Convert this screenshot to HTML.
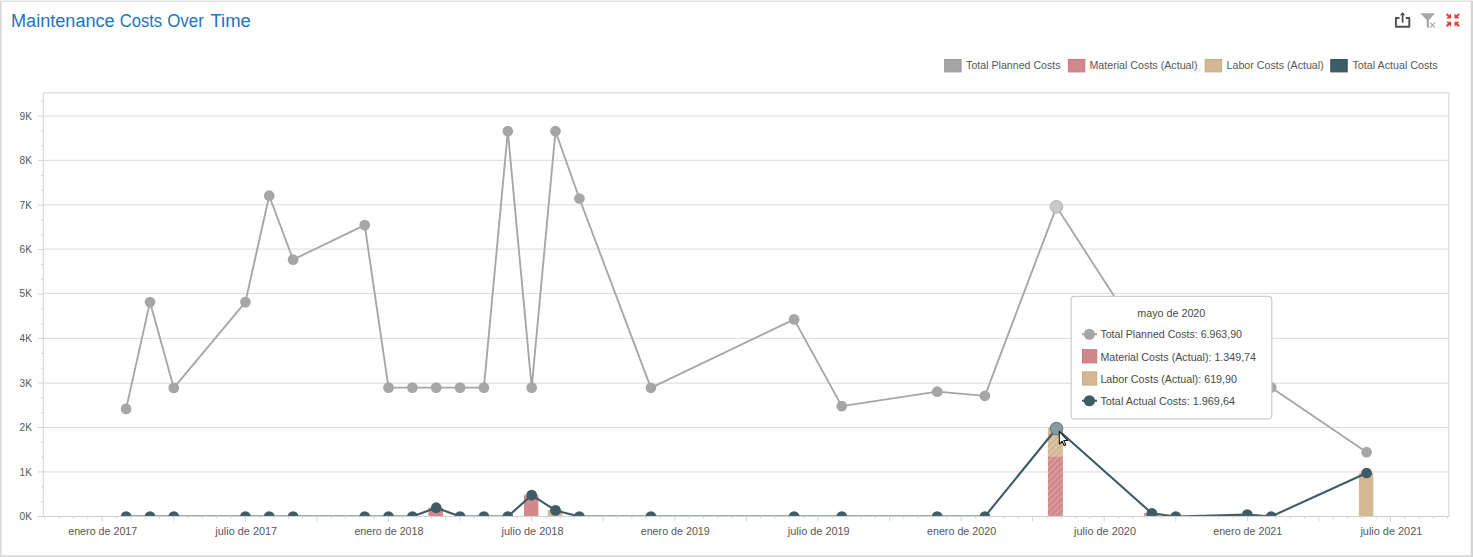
<!DOCTYPE html>
<html><head><meta charset="utf-8"><title>Maintenance Costs Over Time</title>
<style>
html,body{margin:0;padding:0;background:#fff;}
body{width:1473px;height:557px;overflow:hidden;font-family:"Liberation Sans",sans-serif;}
svg{display:block;position:absolute;left:0;top:0;}
text{font-family:"Liberation Sans",sans-serif;}
.ax{font-size:11px;fill:#585858;}
.lg{font-size:11px;fill:#585858;}
.tt{font-size:11px;fill:#4a4a4a;}
</style></head><body>
<svg width="1473" height="557" viewBox="0 0 1473 557">
<defs>
<clipPath id="plot"><rect x="43" y="92" width="1407" height="424"/></clipPath>
<pattern id="hr" width="4.25" height="4.25" patternUnits="userSpaceOnUse" patternTransform="rotate(-45)"><rect width="4.25" height="4.25" fill="#d2878b"/><rect width="4.25" height="1.2" fill="#dfa5a8"/></pattern>
<pattern id="ht" width="4.25" height="4.25" patternUnits="userSpaceOnUse" patternTransform="rotate(-45)"><rect width="4.25" height="4.25" fill="#d3b893"/><rect width="4.25" height="1.2" fill="#e0ccb0"/></pattern>
</defs>

<rect x="0" y="0" width="1473" height="557" fill="#ffffff"/>
<rect x="0" y="0" width="1473" height="1" fill="#f0f0f0"/>
<rect x="0" y="1" width="1473" height="1" fill="#e0e0e0"/>
<rect x="0" y="1" width="1" height="556" fill="#d4d4d4"/>
<rect x="1" y="2" width="1" height="553" fill="#ececec"/>
<rect x="1471" y="1" width="2" height="556" fill="#d4d4d4"/>
<rect x="1470" y="2" width="1" height="553" fill="#f4f4f4"/>
<rect x="1" y="555" width="1470" height="1" fill="#e4e4e4"/>
<rect x="0" y="556" width="1473" height="1" fill="#d3d3d3"/>
<text x="11.0" y="26.9" font-size="18" fill="#1f74c0" textLength="103.7" lengthAdjust="spacingAndGlyphs">Maintenance</text>
<text x="119.7" y="26.9" font-size="18" fill="#1f74c0" textLength="42.5" lengthAdjust="spacingAndGlyphs">Costs</text>
<text x="167.2" y="26.9" font-size="18" fill="#1f74c0" textLength="36.6" lengthAdjust="spacingAndGlyphs">Over</text>
<text x="210.5" y="26.9" font-size="18" fill="#1f74c0" textLength="40.4" lengthAdjust="spacingAndGlyphs">Time</text>
<g id="ico-export" fill="none" stroke="#4f4f4f" stroke-linejoin="round" stroke-linecap="butt">
<path d="M1399.4 18.0H1395.9V26.8H1409.3V18.0H1405.8" stroke-width="1.9"/>
<path d="M1402.6 22.7V13.8" stroke-width="1.7"/>
</g>
<path d="M1402.6 12.0l2.6 3.3h-5.2z" fill="#4f4f4f"/>
<g id="ico-filter">
<path d="M1420.2 13.3h14.8l-6.1 6.6v7.9h-2.1v-7.9z" fill="#a8a8a8"/>
<path d="M1430.2 22.6l4.7 5M1434.9 22.6l-4.7 5" stroke="#adadad" stroke-width="1.25" fill="none"/>
</g>
<g id="ico-collapse" fill="#ea3c3c" stroke="#ea3c3c">
<path d="M1451.10 13.40V18.40H1446.10z" stroke="none"/><path d="M1446.60 13.90L1449.70 17.00" stroke-width="2.1" fill="none"/>
<path d="M1451.10 26.80V21.80H1446.10z" stroke="none"/><path d="M1446.60 26.30L1449.70 23.20" stroke-width="2.1" fill="none"/>
<path d="M1454.50 13.40V18.40H1459.50z" stroke="none"/><path d="M1459.00 13.90L1455.90 17.00" stroke-width="2.1" fill="none"/>
<path d="M1454.50 26.80V21.80H1459.50z" stroke="none"/><path d="M1459.00 26.30L1455.90 23.20" stroke-width="2.1" fill="none"/>
</g>

<rect x="944.7" y="59.5" width="16.4" height="12.4" fill="#a6a6a6" stroke="#9a9a9a" stroke-width="1"/>
<text class="lg" x="966.1" y="69.1" textLength="94.5" lengthAdjust="spacingAndGlyphs">Total Planned Costs</text>
<rect x="1068.4" y="59.5" width="16.4" height="12.4" fill="#d2878b" stroke="#c9797d" stroke-width="1"/>
<text class="lg" x="1089.4" y="69.1" textLength="108.1" lengthAdjust="spacingAndGlyphs">Material Costs (Actual)</text>
<rect x="1205.2" y="59.5" width="16.4" height="12.4" fill="#d3b893" stroke="#c8ab84" stroke-width="1"/>
<text class="lg" x="1226.6" y="69.1" textLength="97.1" lengthAdjust="spacingAndGlyphs">Labor Costs (Actual)</text>
<rect x="1330.8" y="59.5" width="16.4" height="12.4" fill="#3e5c66" stroke="#36525b" stroke-width="1"/>
<text class="lg" x="1352.5" y="69.1" textLength="85.2" lengthAdjust="spacingAndGlyphs">Total Actual Costs</text>
<g id="grid" stroke="#dcdcdc" stroke-width="1" fill="none">
<path d="M43.8 471.95H1448.4"/>
<path d="M43.8 427.50H1448.4"/>
<path d="M43.8 383.20H1448.4"/>
<path d="M43.8 338.35H1448.4"/>
<path d="M43.8 293.45H1448.4"/>
<path d="M43.8 249.05H1448.4"/>
<path d="M43.8 204.75H1448.4"/>
<path d="M43.8 160.35H1448.4"/>
<path d="M43.8 116.10H1448.4"/>
</g>
<g id="frame" stroke="#d3d3d3" stroke-width="1" fill="none">
<path d="M43.3 516.4V92.9H1448.9V516.4"/>
</g>
<g id="yticks" stroke="#d4d4d4" stroke-width="1" fill="none">
<path d="M38 516.45H43.3"/>
<path d="M41 501.62H43.3"/>
<path d="M41 486.80H43.3"/>
<path d="M38 471.97H43.3"/>
<path d="M41 457.14H43.3"/>
<path d="M41 442.32H43.3"/>
<path d="M38 427.49H43.3"/>
<path d="M41 412.66H43.3"/>
<path d="M41 397.84H43.3"/>
<path d="M38 383.01H43.3"/>
<path d="M41 368.18H43.3"/>
<path d="M41 353.36H43.3"/>
<path d="M38 338.53H43.3"/>
<path d="M41 323.70H43.3"/>
<path d="M41 308.88H43.3"/>
<path d="M38 294.05H43.3"/>
<path d="M41 279.22H43.3"/>
<path d="M41 264.40H43.3"/>
<path d="M38 249.57H43.3"/>
<path d="M41 234.74H43.3"/>
<path d="M41 219.92H43.3"/>
<path d="M38 205.09H43.3"/>
<path d="M41 190.26H43.3"/>
<path d="M41 175.44H43.3"/>
<path d="M38 160.61H43.3"/>
<path d="M41 145.78H43.3"/>
<path d="M41 130.96H43.3"/>
<path d="M38 116.13H43.3"/>
<path d="M41 101.30H43.3"/>
</g>
<g id="xticks" stroke="#d4d4d4" stroke-width="1" fill="none">
<path d="M45.0 516.4V518.7"/>
<path d="M59.3 516.4V518.7"/>
<path d="M73.6 516.4V518.7"/>
<path d="M87.9 516.4V518.7"/>
<path d="M102.2 516.4V521.4"/>
<path d="M116.6 516.4V518.7"/>
<path d="M130.9 516.4V518.7"/>
<path d="M145.2 516.4V518.7"/>
<path d="M159.5 516.4V518.7"/>
<path d="M173.8 516.4V521.4"/>
<path d="M188.1 516.4V518.7"/>
<path d="M202.4 516.4V518.7"/>
<path d="M216.8 516.4V518.7"/>
<path d="M231.1 516.4V518.7"/>
<path d="M245.4 516.4V521.4"/>
<path d="M259.7 516.4V518.7"/>
<path d="M274.0 516.4V518.7"/>
<path d="M288.3 516.4V518.7"/>
<path d="M302.6 516.4V518.7"/>
<path d="M317.0 516.4V521.4"/>
<path d="M331.3 516.4V518.7"/>
<path d="M345.6 516.4V518.7"/>
<path d="M359.9 516.4V518.7"/>
<path d="M374.2 516.4V518.7"/>
<path d="M388.5 516.4V521.4"/>
<path d="M402.8 516.4V518.7"/>
<path d="M417.1 516.4V518.7"/>
<path d="M431.5 516.4V518.7"/>
<path d="M445.8 516.4V518.7"/>
<path d="M460.1 516.4V521.4"/>
<path d="M474.4 516.4V518.7"/>
<path d="M488.7 516.4V518.7"/>
<path d="M503.0 516.4V518.7"/>
<path d="M517.3 516.4V518.7"/>
<path d="M531.7 516.4V521.4"/>
<path d="M546.0 516.4V518.7"/>
<path d="M560.3 516.4V518.7"/>
<path d="M574.6 516.4V518.7"/>
<path d="M588.9 516.4V518.7"/>
<path d="M603.2 516.4V521.4"/>
<path d="M617.5 516.4V518.7"/>
<path d="M631.9 516.4V518.7"/>
<path d="M646.2 516.4V518.7"/>
<path d="M660.5 516.4V518.7"/>
<path d="M674.8 516.4V521.4"/>
<path d="M689.1 516.4V518.7"/>
<path d="M703.4 516.4V518.7"/>
<path d="M717.7 516.4V518.7"/>
<path d="M732.0 516.4V518.7"/>
<path d="M746.4 516.4V521.4"/>
<path d="M760.7 516.4V518.7"/>
<path d="M775.0 516.4V518.7"/>
<path d="M789.3 516.4V518.7"/>
<path d="M803.6 516.4V518.7"/>
<path d="M817.9 516.4V521.4"/>
<path d="M832.2 516.4V518.7"/>
<path d="M846.6 516.4V518.7"/>
<path d="M860.9 516.4V518.7"/>
<path d="M875.2 516.4V518.7"/>
<path d="M889.5 516.4V521.4"/>
<path d="M903.8 516.4V518.7"/>
<path d="M918.1 516.4V518.7"/>
<path d="M932.4 516.4V518.7"/>
<path d="M946.8 516.4V518.7"/>
<path d="M961.1 516.4V521.4"/>
<path d="M975.4 516.4V518.7"/>
<path d="M989.7 516.4V518.7"/>
<path d="M1004.0 516.4V518.7"/>
<path d="M1018.3 516.4V518.7"/>
<path d="M1032.6 516.4V521.4"/>
<path d="M1046.9 516.4V518.7"/>
<path d="M1061.3 516.4V518.7"/>
<path d="M1075.6 516.4V518.7"/>
<path d="M1089.9 516.4V518.7"/>
<path d="M1104.2 516.4V521.4"/>
<path d="M1118.5 516.4V518.7"/>
<path d="M1132.8 516.4V518.7"/>
<path d="M1147.1 516.4V518.7"/>
<path d="M1161.5 516.4V518.7"/>
<path d="M1175.8 516.4V521.4"/>
<path d="M1190.1 516.4V518.7"/>
<path d="M1204.4 516.4V518.7"/>
<path d="M1218.7 516.4V518.7"/>
<path d="M1233.0 516.4V518.7"/>
<path d="M1247.3 516.4V521.4"/>
<path d="M1261.7 516.4V518.7"/>
<path d="M1276.0 516.4V518.7"/>
<path d="M1290.3 516.4V518.7"/>
<path d="M1304.6 516.4V518.7"/>
<path d="M1318.9 516.4V521.4"/>
<path d="M1333.2 516.4V518.7"/>
<path d="M1347.5 516.4V518.7"/>
<path d="M1361.8 516.4V518.7"/>
<path d="M1376.2 516.4V518.7"/>
<path d="M1390.5 516.4V521.4"/>
<path d="M1404.8 516.4V518.7"/>
<path d="M1419.1 516.4V518.7"/>
<path d="M1433.4 516.4V518.7"/>
<path d="M1447.7 516.4V518.7"/>
</g>
<text class="ax" x="31.9" y="520.2" text-anchor="end" textLength="12.4" lengthAdjust="spacingAndGlyphs">0K</text>
<text class="ax" x="31.9" y="475.8" text-anchor="end" textLength="12.4" lengthAdjust="spacingAndGlyphs">1K</text>
<text class="ax" x="31.9" y="431.3" text-anchor="end" textLength="12.4" lengthAdjust="spacingAndGlyphs">2K</text>
<text class="ax" x="31.9" y="387.0" text-anchor="end" textLength="12.4" lengthAdjust="spacingAndGlyphs">3K</text>
<text class="ax" x="31.9" y="342.2" text-anchor="end" textLength="12.4" lengthAdjust="spacingAndGlyphs">4K</text>
<text class="ax" x="31.9" y="297.2" text-anchor="end" textLength="12.4" lengthAdjust="spacingAndGlyphs">5K</text>
<text class="ax" x="31.9" y="252.9" text-anchor="end" textLength="12.4" lengthAdjust="spacingAndGlyphs">6K</text>
<text class="ax" x="31.9" y="208.6" text-anchor="end" textLength="12.4" lengthAdjust="spacingAndGlyphs">7K</text>
<text class="ax" x="31.9" y="164.2" text-anchor="end" textLength="12.4" lengthAdjust="spacingAndGlyphs">8K</text>
<text class="ax" x="31.9" y="119.9" text-anchor="end" textLength="12.4" lengthAdjust="spacingAndGlyphs">9K</text>
<text class="ax" x="68.2" y="534.9" textLength="69.1" lengthAdjust="spacingAndGlyphs">enero de 2017</text>
<text class="ax" x="215.3" y="534.9" textLength="61.9" lengthAdjust="spacingAndGlyphs">julio de 2017</text>
<text class="ax" x="354.4" y="534.9" textLength="69.1" lengthAdjust="spacingAndGlyphs">enero de 2018</text>
<text class="ax" x="501.6" y="534.9" textLength="61.9" lengthAdjust="spacingAndGlyphs">julio de 2018</text>
<text class="ax" x="640.7" y="534.9" textLength="69.1" lengthAdjust="spacingAndGlyphs">enero de 2019</text>
<text class="ax" x="787.8" y="534.9" textLength="61.9" lengthAdjust="spacingAndGlyphs">julio de 2019</text>
<text class="ax" x="927.0" y="534.9" textLength="69.1" lengthAdjust="spacingAndGlyphs">enero de 2020</text>
<text class="ax" x="1074.1" y="534.9" textLength="61.9" lengthAdjust="spacingAndGlyphs">julio de 2020</text>
<text class="ax" x="1213.2" y="534.9" textLength="69.1" lengthAdjust="spacingAndGlyphs">enero de 2021</text>
<text class="ax" x="1360.4" y="534.9" textLength="61.9" lengthAdjust="spacingAndGlyphs">julio de 2021</text>
<g clip-path="url(#plot)">
<rect x="428.5" y="507.7" width="14.4" height="8.8" fill="#d2878b"/>
<rect x="524.0" y="495.2" width="14.4" height="21.3" fill="#d2878b"/>
<rect x="524.0" y="494.5" width="14.4" height="0.7" fill="#d3b893"/>
<rect x="547.8" y="510.1" width="14.4" height="6.4" fill="#d3b893"/>
<rect x="1047.9" y="456.2" width="15" height="60.3" fill="url(#hr)"/>
<rect x="1047.9" y="427.9" width="15" height="28.3" fill="url(#ht)"/>
<rect x="1144.2" y="513.0" width="14.4" height="3.5" fill="#d2878b"/>
<rect x="1358.9" y="473.0" width="14.4" height="43.5" fill="#d3b893"/>
<polyline points="126.1,408.9 150.0,302.1 173.8,387.9 245.4,302.1 269.2,195.7 293.1,259.6 364.7,225.1 388.5,387.6 412.4,387.6 436.2,387.6 460.1,387.6 483.9,387.6 507.8,131.2 531.7,387.6 555.5,131.2 579.4,198.5 650.9,387.8 794.1,319.4 841.8,406.1 937.2,391.7 984.9,395.8 1056.5,206.8 1151.9,354.7 1175.8,388.0 1247.3,388.0 1271.2,387.4 1366.6,452.2" fill="none" stroke="#a6a6a6" stroke-width="1.85" stroke-linejoin="round"/>
<circle cx="126.1" cy="408.9" r="5.35" fill="#a6a6a6"/>
<circle cx="150.0" cy="302.1" r="5.35" fill="#a6a6a6"/>
<circle cx="173.8" cy="387.9" r="5.35" fill="#a6a6a6"/>
<circle cx="245.4" cy="302.1" r="5.35" fill="#a6a6a6"/>
<circle cx="269.2" cy="195.7" r="5.35" fill="#a6a6a6"/>
<circle cx="293.1" cy="259.6" r="5.35" fill="#a6a6a6"/>
<circle cx="364.7" cy="225.1" r="5.35" fill="#a6a6a6"/>
<circle cx="388.5" cy="387.6" r="5.35" fill="#a6a6a6"/>
<circle cx="412.4" cy="387.6" r="5.35" fill="#a6a6a6"/>
<circle cx="436.2" cy="387.6" r="5.35" fill="#a6a6a6"/>
<circle cx="460.1" cy="387.6" r="5.35" fill="#a6a6a6"/>
<circle cx="483.9" cy="387.6" r="5.35" fill="#a6a6a6"/>
<circle cx="507.8" cy="131.2" r="5.35" fill="#a6a6a6"/>
<circle cx="531.7" cy="387.6" r="5.35" fill="#a6a6a6"/>
<circle cx="555.5" cy="131.2" r="5.35" fill="#a6a6a6"/>
<circle cx="579.4" cy="198.5" r="5.35" fill="#a6a6a6"/>
<circle cx="650.9" cy="387.8" r="5.35" fill="#a6a6a6"/>
<circle cx="794.1" cy="319.4" r="5.35" fill="#a6a6a6"/>
<circle cx="841.8" cy="406.1" r="5.35" fill="#a6a6a6"/>
<circle cx="937.2" cy="391.7" r="5.35" fill="#a6a6a6"/>
<circle cx="984.9" cy="395.8" r="5.35" fill="#a6a6a6"/>
<circle cx="1151.9" cy="354.7" r="5.35" fill="#a6a6a6"/>
<circle cx="1175.8" cy="388.0" r="5.35" fill="#a6a6a6"/>
<circle cx="1247.3" cy="388.0" r="5.35" fill="#a6a6a6"/>
<circle cx="1271.2" cy="387.4" r="5.35" fill="#a6a6a6"/>
<circle cx="1366.6" cy="452.2" r="5.35" fill="#a6a6a6"/>
<polyline points="126.1,516.5 150.0,516.5 173.8,516.5 245.4,516.5 269.2,516.5 293.1,516.5 364.7,516.5 388.5,516.5 412.4,516.5 436.2,507.7 460.1,516.5 483.9,516.5 507.8,516.5 531.7,495.1 555.5,510.4 579.4,516.5 650.9,516.5 794.1,516.5 841.8,516.5 937.2,516.5 984.9,516.5 1056.5,428.5 1151.9,513.4 1175.8,516.5 1247.3,514.6 1271.2,516.5 1366.6,473.0" fill="none" stroke="#3e5c66" stroke-width="2.1" stroke-linejoin="round"/>
<circle cx="126.1" cy="516.5" r="5.35" fill="#3e5c66"/>
<circle cx="150.0" cy="516.5" r="5.35" fill="#3e5c66"/>
<circle cx="173.8" cy="516.5" r="5.35" fill="#3e5c66"/>
<circle cx="245.4" cy="516.5" r="5.35" fill="#3e5c66"/>
<circle cx="269.2" cy="516.5" r="5.35" fill="#3e5c66"/>
<circle cx="293.1" cy="516.5" r="5.35" fill="#3e5c66"/>
<circle cx="364.7" cy="516.5" r="5.35" fill="#3e5c66"/>
<circle cx="388.5" cy="516.5" r="5.35" fill="#3e5c66"/>
<circle cx="412.4" cy="516.5" r="5.35" fill="#3e5c66"/>
<circle cx="436.2" cy="507.7" r="5.35" fill="#3e5c66"/>
<circle cx="460.1" cy="516.5" r="5.35" fill="#3e5c66"/>
<circle cx="483.9" cy="516.5" r="5.35" fill="#3e5c66"/>
<circle cx="507.8" cy="516.5" r="5.35" fill="#3e5c66"/>
<circle cx="531.7" cy="495.1" r="5.35" fill="#3e5c66"/>
<circle cx="555.5" cy="510.4" r="5.35" fill="#3e5c66"/>
<circle cx="579.4" cy="516.5" r="5.35" fill="#3e5c66"/>
<circle cx="650.9" cy="516.5" r="5.35" fill="#3e5c66"/>
<circle cx="794.1" cy="516.5" r="5.35" fill="#3e5c66"/>
<circle cx="841.8" cy="516.5" r="5.35" fill="#3e5c66"/>
<circle cx="937.2" cy="516.5" r="5.35" fill="#3e5c66"/>
<circle cx="984.9" cy="516.5" r="5.35" fill="#3e5c66"/>
<circle cx="1151.9" cy="513.4" r="5.35" fill="#3e5c66"/>
<circle cx="1175.8" cy="516.5" r="5.35" fill="#3e5c66"/>
<circle cx="1247.3" cy="514.6" r="5.35" fill="#3e5c66"/>
<circle cx="1271.2" cy="516.5" r="5.35" fill="#3e5c66"/>
<circle cx="1366.6" cy="473.0" r="5.35" fill="#3e5c66"/>
<circle cx="1056.5" cy="206.8" r="6.3" fill="#c9c9c9" stroke="#b2b2b2" stroke-width="1"/>
<circle cx="1056.5" cy="428.6" r="6.25" fill="#889ca2" stroke="#688088" stroke-width="1.2"/>
</g>
<path d="M38 516.45H1449.4" stroke="#d0d0d0" stroke-width="1" fill="none"/>
<rect x="1071.15" y="296.35" width="200.65" height="122.6" rx="3.2" ry="3.2" fill="#ffffff" stroke="#cdcdcd" stroke-width="1.25"/>
<text class="tt" x="1171.3" y="317.2" text-anchor="middle" textLength="68" lengthAdjust="spacingAndGlyphs">mayo de 2020</text>
<path d="M1082 334.25H1097" stroke="#a6a6a6" stroke-width="2"/><circle cx="1089.4" cy="334.25" r="5.6" fill="#a6a6a6"/>
<rect x="1082.5" y="349.7" width="14.2" height="13.2" fill="#d2878b" stroke="#c9797d" stroke-width="1"/>
<rect x="1082.5" y="371.9" width="14.2" height="13.2" fill="#d3b893" stroke="#c8ab84" stroke-width="1"/>
<path d="M1082 400.75H1097" stroke="#3e5c66" stroke-width="2"/><circle cx="1089.4" cy="400.75" r="5.6" fill="#3e5c66"/>
<text class="tt" x="1100.4" y="338.4" textLength="141.6" lengthAdjust="spacingAndGlyphs">Total Planned Costs: 6.963,90</text>
<text class="tt" x="1100.4" y="360.6" textLength="155.6" lengthAdjust="spacingAndGlyphs">Material Costs (Actual): 1.349,74</text>
<text class="tt" x="1100.4" y="382.8" textLength="136.6" lengthAdjust="spacingAndGlyphs">Labor Costs (Actual): 619,90</text>
<text class="tt" x="1100.4" y="404.9" textLength="134.6" lengthAdjust="spacingAndGlyphs">Total Actual Costs: 1.969,64</text>
<path d="M1059.3 431.4v12.6l2.9-2.7 1.9 4.3 1.7-0.8-1.9-4.2h3.9z" fill="#ffffff" stroke="#111111" stroke-width="1.05" stroke-linejoin="round"/>
</svg></body></html>
